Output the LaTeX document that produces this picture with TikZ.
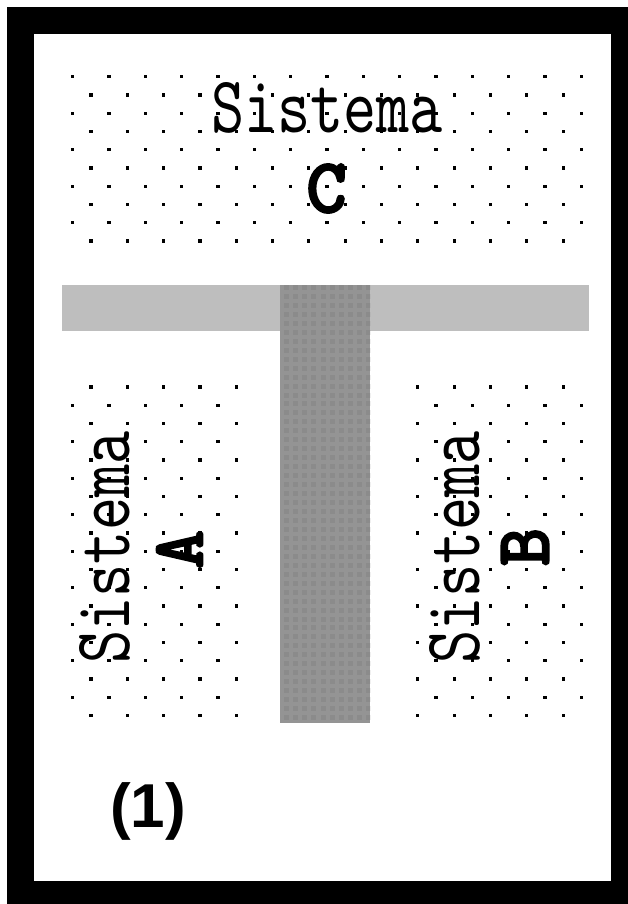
\documentclass[tikz,border=0pt]{standalone}
\usepackage{fontspec}
\usepackage{graphicx}
\newfontfamily\numfont{Liberation Sans}
\newfontfamily\lettfont{Latin Modern Mono}[FakeBold=4]
\definecolor{barlight}{HTML}{BEBEBE}
\definecolor{bardark}{HTML}{949494}
\definecolor{bardot}{HTML}{8B8B8B}

\begin{document}
\begin{tikzpicture}[x=1pt,y=-1pt,inner sep=0pt]
\def\hx{18.165}
\def\dy{18.25}
\def\sist{\resizebox{232pt}{50pt}{\ttfamily Sistema}}
\useasboundingbox (0,0) rectangle (628,904);
\fill[black] (7,7) rectangle (628,904);
\fill[white] (34,34) rectangle (611,881);

\foreach \r in {0,2,...,8} \foreach \k in {0,2,...,28}
  \fill (72.7+\k*\hx-1.65, 76.7+\r*\dy-1.65) rectangle +(3.3,3.3);
\foreach \r in {1,3,...,9} \foreach \k in {1,3,...,27}
  \fill (72.7+\k*\hx-1.65, 76.7+\r*\dy-1.65) rectangle +(3.3,3.3);
\foreach \r in {18,20,...,34} \foreach \k in {0,2,4,6,8,20,22,24,26,28}
  \fill (72.7+\k*\hx-1.65, 76.7+\r*\dy-1.65) rectangle +(3.3,3.3);
\foreach \r in {17,19,...,35} \foreach \k in {1,3,5,7,9,19,21,23,25,27}
  \fill (72.7+\k*\hx-1.65, 76.7+\r*\dy-1.65) rectangle +(3.3,3.3);

\fill[barlight] (62,285) rectangle (589,330.5);
\fill[bardark] (280,285) rectangle (370,722.5);
\begin{scope}
\clip (280,285) rectangle (370,722.5);
\foreach \i in {0,...,9} \foreach \j in {0,...,48}
  \fill[bardot] (284+\i*9.15, 285+\j*8.96) rectangle +(5,5);
\end{scope}

\node (sc) at (327,108) {\sist};
\node (lc) at (326.5,188.5) {\resizebox{!}{47pt}{\lettfont C}};
\node (sa) at (104.5,547.5) [rotate=90] {\sist};
\node (la) at (179.5,549.5) [rotate=90] {\resizebox{!}{45pt}{\lettfont A}};
\node (sb) at (454.5,547.5) [rotate=90] {\sist};
\node (lb) at (525,547) [rotate=90] {\resizebox{37pt}{46pt}{\lettfont B}};
\node (num) at (148,811) {\fontsize{62}{62}\selectfont\numfont\bfseries (1)};
\end{tikzpicture}
\end{document}
